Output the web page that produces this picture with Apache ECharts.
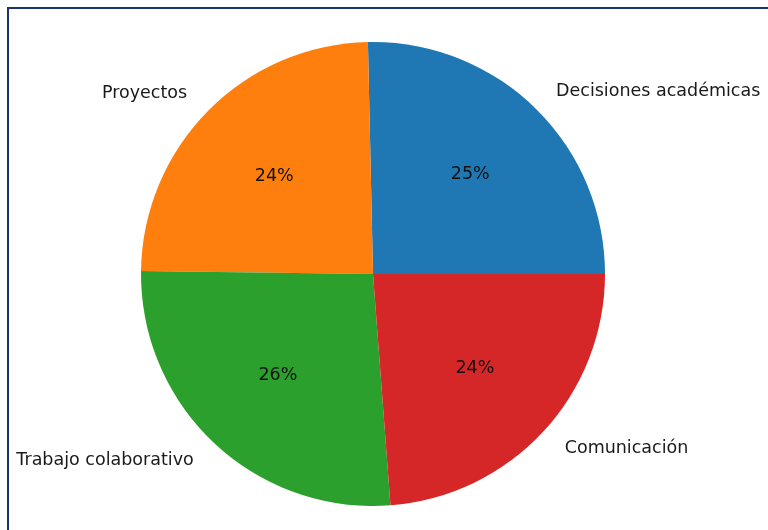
<!DOCTYPE html>
<html>
<head>
<meta charset="utf-8">
<script src="https://cdn.jsdelivr.net/npm/echarts@6/dist/echarts.min.js"></script>
<style>
  html, body { margin: 0; padding: 0; background: #fff; }
  #wrap { position: relative; width: 768px; height: 530px; overflow: hidden; background: #fff; }
  #frame { position: absolute; left: 7px; top: 7px; width: 800px; height: 560px; border-left: 2px solid #1d3273; border-top: 2px solid #1d3273; box-sizing: border-box; pointer-events: none; z-index: 2; }
  #chart { position: absolute; left: 0; top: 0; width: 768px; height: 530px; }
</style>
</head>
<body>
<div id="wrap">
  <div id="chart"></div>
  <div id="frame"></div>
</div>
<script>
const categories = ['Decisiones académicas', 'Proyectos', 'Trabajo colaborativo', 'Comunicación'];
const values = [25.35, 24.45, 26.4, 23.8];
const colors = ['#1f77b4', '#ff7f0e', '#2ca02c', '#d62728'];

const chart = echarts.init(document.getElementById('chart'), null, { renderer: 'canvas' });
const data = categories.map((c, i) => ({ name: c, value: values[i], itemStyle: { color: colors[i] } }));
const dataT = categories.map((c, i) => ({ name: c, value: values[i] }));
const FONT = 'DejaVu Sans';

chart.setOption({
  animation: false,
  backgroundColor: '#ffffff',
  series: [
    {
      type: 'pie',
      center: [373, 274],
      radius: [0, 232],
      startAngle: 0,
      clockwise: false,
      avoidLabelOverlap: false,
      silent: true,
      data: data,
      itemStyle: { borderWidth: 0 },
      label: {
        show: true,
        position: 'outside',
        formatter: '{b}',
        color: '#1a1a1a',
        fontFamily: FONT,
        fontSize: 17.5,
        distanceToLabelLine: 4
      },
      labelLine: { show: false, length: 24, length2: 0 },
      emphasis: { disabled: true }
    },
    {
      type: 'pie',
      center: [373, 274],
      radius: [40, 232],
      startAngle: 0,
      clockwise: false,
      avoidLabelOverlap: false,
      silent: true,
      data: dataT,
      itemStyle: { color: 'rgba(0,0,0,0)', borderWidth: 0 },
      label: {
        show: true,
        position: 'inside',
        formatter: p => Math.round(p.percent) + '%',
        color: '#111111',
        fontFamily: FONT,
        fontSize: 17.5
      },
      labelLine: { show: false },
      emphasis: { disabled: true }
    }
  ]
});
</script>
</body>
</html>
